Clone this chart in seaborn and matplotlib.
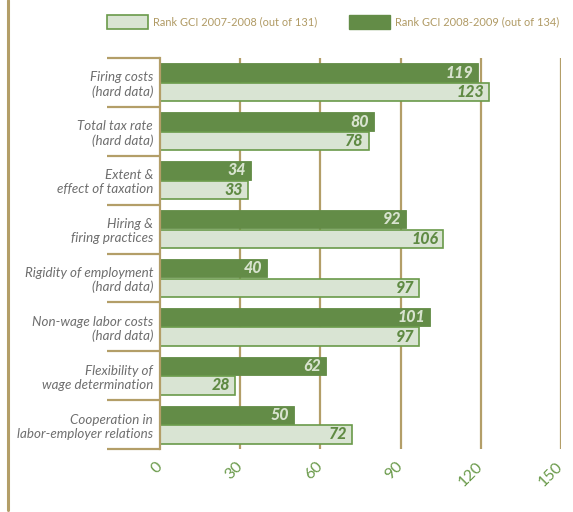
import matplotlib
matplotlib.use("Agg")
import matplotlib.pyplot as plt
import matplotlib.lines as mlines
import matplotlib.patches as mpatches
import seaborn as sns
import pandas as pd

# Labour-market indicators and their GCI ranks
categories = [
    "Firing costs\n(hard data)",
    "Total tax rate\n(hard data)",
    "Extent &\neffect of taxation",
    "Hiring &\nfiring practices",
    "Rigidity of employment\n(hard data)",
    "Non-wage labor costs\n(hard data)",
    "Flexibility of\nwage determination",
    "Cooperation in\nlabor-employer relations",
]
series_names = ["Rank GCI 2008-2009 (out of 134)", "Rank GCI 2007-2008 (out of 131)"]
rank_2008_2009 = [119, 80, 34, 92, 40, 101, 62, 50]
rank_2007_2008 = [123, 78, 33, 106, 97, 97, 28, 72]
x_ticks = [0, 30, 60, 90, 120, 150]

DARK = "#638c47"
LIGHT = "#d9e4d3"
EDGE = "#6a9a4a"
TAN = "#b39e68"
GREY = "#6e6e6e"
TICK_GREEN = "#6a9a4a"

df = pd.DataFrame({
    "category": categories * 2,
    "series": [series_names[0]] * len(categories) + [series_names[1]] * len(categories),
    "rank": rank_2008_2009 + rank_2007_2008,
})

sns.set_theme(style="white")
plt.rcParams["font.family"] = ["Lato", "DejaVu Sans"]

fig = plt.figure(figsize=(5.73, 5.12), dpi=100)
ax = fig.add_axes([160 / 573, 1 - 449 / 512, 401 / 573, (449 - 58) / 512])

sns.barplot(
    data=df, y="category", x="rank", hue="series", hue_order=series_names,
    palette=[DARK, LIGHT], orient="h", width=0.8, gap=0.06, ax=ax,
    saturation=1, zorder=3,
)

# Bar outlines and value labels at the bar ends
for i, container in enumerate(ax.containers):
    for patch in container.patches:
        if i == 1:
            patch.set_edgecolor(EDGE)
            patch.set_linewidth(1.2)
        else:
            patch.set_edgecolor(DARK)
            patch.set_linewidth(0.6)
        val = patch.get_width()
        yc = patch.get_y() + patch.get_height() / 2
        ax.text(val - 1.8, yc, f"{int(round(val))}", ha="right", va="center",
                fontsize=11.5, fontweight="black", fontstyle="italic",
                color="#d8e3cf" if i == 0 else "#5f8a43", zorder=4)

ax.set_xlim(0, 150)
ax.set_ylim(len(categories) - 0.5, -0.5)
ax.set_xticks(x_ticks)
ax.set_xticklabels([str(t) for t in x_ticks], rotation=45, color=TICK_GREEN,
                   fontsize=11.5, ha="right", va="center", rotation_mode="anchor")
ax.tick_params(axis="x", length=0, pad=11)
ax.tick_params(axis="y", length=0, pad=5)
for lab in ax.get_yticklabels():
    lab.set_fontstyle("italic")
    lab.set_color(GREY)
    lab.set_fontsize(9.6)
    lab.set_multialignment("right")
ax.set_xlabel("")
ax.set_ylabel("")

for sp in ["top", "right", "bottom"]:
    ax.spines[sp].set_visible(False)
ax.spines["left"].set_color(TAN)
ax.spines["left"].set_linewidth(1.6)
ax.spines["left"].set_zorder(5)

for t in x_ticks[1:]:
    ax.axvline(t, color=TAN, linewidth=1.6, zorder=1)

# Separators between indicator groups on the label side
trans = ax.get_yaxis_transform()
for b in [k - 0.5 for k in range(len(categories) + 1)]:
    ax.plot([-53 / 401, 0], [b, b], transform=trans, color=TAN, linewidth=1.6,
            clip_on=False, solid_capstyle="butt")

# Legend across the top
ax.get_legend().remove()
leg_handles = [
    mpatches.Patch(facecolor=LIGHT, edgecolor=EDGE, linewidth=1.2),
    mpatches.Patch(facecolor=DARK, edgecolor=DARK),
]
leg = fig.legend(leg_handles, [series_names[1], series_names[0]], loc="center",
                 bbox_to_anchor=(333 / 573, 1 - 22 / 512), ncol=2, frameon=False,
                 handlelength=3.7, handleheight=1.55, handletextpad=0.45,
                 columnspacing=2.9, fontsize=7.95)
for txt in leg.get_texts():
    txt.set_color("#b09a64")

# Outer frame line on the left
fig.add_artist(mlines.Line2D([8 / 573, 8 / 573], [0.004, 1], color=TAN, linewidth=2.2,
                             transform=fig.transFigure))

fig.savefig("out.png", dpi=100)
